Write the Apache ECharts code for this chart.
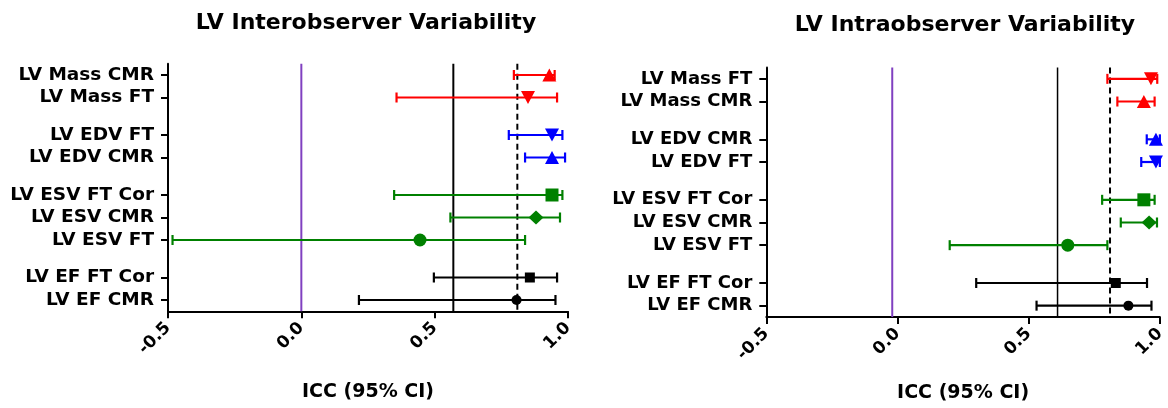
<!DOCTYPE html>
<html lang="en">
<head>
    <meta charset="UTF-8">
    <title>LV ICC</title>
    <script src="https://cdn.jsdelivr.net/npm/echarts@6/dist/echarts.min.js"></script>
</head>
<style>
    html,body{
        padding: 0;
        margin: 0;
        background: #fff;
    }
</style>
<body>
<div id="chart" style="width: 1168px;height:408px;"></div>
</body>
<script type="text/javascript">
    // 左图：观察者间
    var interNames = ['LV Mass CMR', 'LV Mass FT', 'LV EDV FT', 'LV EDV CMR',
        'LV ESV FT Cor', 'LV ESV CMR', 'LV ESV FT', 'LV EF FT Cor', 'LV EF CMR'];
    var interGroups = [2, 2, 3, 2];
    var interIcc  = [0.93, 0.85, 0.94, 0.94, 0.94, 0.88, 0.445, 0.857, 0.807];
    var interLow  = [0.797, 0.357, 0.778, 0.839, 0.348, 0.559, -0.483, 0.497, 0.216];
    var interHigh = [0.95, 0.959, 0.979, 0.989, 0.979, 0.970, 0.839, 0.959, 0.953];
    var interSymbols = ['up', 'down', 'down', 'up', 'square', 'diamond', 'circle', 'square', 'circle'];
    var interRefs = [0, 0.57, 0.81];

    // 右图：观察者内
    var intraNames = ['LV Mass FT', 'LV Mass CMR', 'LV EDV CMR', 'LV EDV FT',
        'LV ESV FT Cor', 'LV ESV CMR', 'LV ESV FT', 'LV EF FT Cor', 'LV EF CMR'];
    var intraGroups = [2, 2, 3, 2];
    var intraIcc  = [0.966, 0.939, 0.985, 0.985, 0.939, 0.959, 0.649, 0.832, 0.88];
    var intraLow  = [0.80, 0.838, 0.95, 0.929, 0.78, 0.851, 0.199, 0.30, 0.53];
    var intraHigh = [0.99, 0.98, 1.0, 1.0, 0.98, 0.989, 0.80, 0.951, 0.968];
    var intraSymbols = ['down', 'up', 'up', 'down', 'square', 'diamond', 'circle', 'square', 'circle'];
    var intraRefs = [-0.02, 0.61, 0.81];

    var groupColors = ['#ff0000', '#0000ff', '#008000', '#000000'];
    var xTicks = [-0.5, 0.0, 0.5, 1.0];

    var FONT = 'DejaVu Sans';
    var myChart = echarts.init(document.getElementById('chart'));

    /**
     * 把行排到细分的类目格子上，组内间隔3格，组间间隔5格
     */
    function buildSlots(names, groups) {
        var cats = ['#0'], rows = [], rowGroup = [], k = 0;
        groups.forEach(function (n, g) {
            if (g > 0) {
                for (var j = 0; j < 4; j++) cats.push('#' + cats.length);
            }
            for (var i = 0; i < n; i++) {
                if (i > 0) {
                    cats.push('#' + cats.length);
                    cats.push('#' + cats.length);
                }
                rows.push(cats.length);
                rowGroup.push(g);
                cats.push(names[k++]);
            }
        });
        cats.push('#' + cats.length);
        return {cats: cats, rows: rows, rowGroup: rowGroup};
    }

    function symbolOf(kind, big) {
        switch (kind) {
            case 'up': return {symbol: 'triangle', symbolSize: [14, 13], symbolRotate: 0};
            case 'down': return {symbol: 'triangle', symbolSize: [14, 13], symbolRotate: 180};
            case 'square': return {symbol: 'rect', symbolSize: big ? 13 : 10};
            case 'diamond': return {symbol: 'diamond', symbolSize: [15, 14]};
            default: return {symbol: 'circle', symbolSize: big ? 13 : 10};
        }
    }

    function isLabel(i, v) { return String(v).charAt(0) !== '#'; }

    // 参考线样式：紫色零线、黑实线、黑虚线
    function refStyle(j, idx) {
        if (j === 0) return {stroke: '#8040c0', lineWidth: 2};
        if (j === 1) return {stroke: '#000', lineWidth: idx ? 1.5 : 2};
        return {stroke: '#000', lineWidth: 2, lineDash: [6, 4]};
    }

    function panel(idx, names, groups, icc, low, high, kinds, refs, labelSize, nameGap) {
        var s = buildSlots(names, groups);
        var bars = [], points = [];
        for (var i = 0; i < names.length; i++) {
            var color = groupColors[s.rowGroup[i]];
            bars.push({value: [low[i], high[i], s.rows[i]], itemStyle: {color: color}});
            var big = s.rowGroup[i] < 3;
            var p = symbolOf(kinds[i], big);
            p.value = [icc[i], s.rows[i]];
            p.itemStyle = {color: color, opacity: 1};
            points.push(p);
        }
        var xAxis = {
            gridIndex: idx, type: 'value',
            min: xTicks[0], max: xTicks[xTicks.length - 1], interval: 0.5,
            name: 'ICC (95% CI)', nameLocation: 'middle', nameGap: nameGap,
            nameTextStyle: {fontFamily: FONT, fontWeight: 'bold', fontSize: 19, color: '#000'},
            axisLine: {show: true, onZero: false, lineStyle: {color: '#000', width: 2}},
            axisTick: {show: true, length: 7, lineStyle: {color: '#000', width: 2}},
            axisLabel: {rotate: 45, margin: 14, fontFamily: FONT, fontWeight: 'bold', fontSize: 17, color: '#000',
                formatter: function (v) { return v.toFixed(1); }},
            splitLine: {show: false}
        };
        var yAxis = {
            gridIndex: idx, type: 'category', inverse: true, data: s.cats,
            axisLine: {show: true, onZero: false, lineStyle: {color: '#000', width: 2}},
            axisTick: {show: true, interval: isLabel, alignWithLabel: true, length: 7,
                lineStyle: {color: '#000', width: 2}},
            axisLabel: {interval: isLabel, margin: 14, fontFamily: FONT, fontWeight: 'bold', fontSize: labelSize, color: '#000'},
            splitLine: {show: false}
        };
        var series = [
            {
                type: 'custom', xAxisIndex: idx, yAxisIndex: idx, z: 1, silent: true,
                encode: {x: 0, y: 1},
                data: refs.map(function (v, j) { return [v, 0, j]; }),
                renderItem: function (params, api) {
                    var cs = params.coordSys;
                    var x = api.coord([api.value(0), 0])[0];
                    return {
                        type: 'line',
                        shape: {x1: x, y1: cs.y, x2: x, y2: cs.y + cs.height},
                        style: refStyle(api.value(2), idx)
                    };
                }
            },
            {
                type: 'custom', xAxisIndex: idx, yAxisIndex: idx, z: 2,
                encode: {x: [0, 1], y: 2},
                data: bars,
                renderItem: function (params, api) {
                    var a = api.coord([api.value(0), api.value(2)]);
                    var b = api.coord([api.value(1), api.value(2)]);
                    var st = {stroke: api.visual('color'), lineWidth: 2.2};
                    return {
                        type: 'group',
                        children: [
                            {type: 'line', shape: {x1: a[0], y1: a[1], x2: b[0], y2: b[1]}, style: st},
                            {type: 'line', shape: {x1: a[0], y1: a[1] - 5, x2: a[0], y2: a[1] + 5}, style: st},
                            {type: 'line', shape: {x1: b[0], y1: b[1] - 5, x2: b[0], y2: b[1] + 5}, style: st}
                        ]
                    };
                }
            },
            {
                type: 'scatter', xAxisIndex: idx, yAxisIndex: idx, z: 3,
                clip: false, data: points
            }
        ];
        return {xAxis: xAxis, yAxis: yAxis, series: series};
    }

    var L = panel(0, interNames, interGroups, interIcc, interLow, interHigh, interSymbols, interRefs, 18.5, 71);
    var R = panel(1, intraNames, intraGroups, intraIcc, intraLow, intraHigh, intraSymbols, intraRefs, 18, 67);

    var option = {
        animation: false,
        grid: [
            {left: 168, top: 63.75, width: 400, height: 247.5},
            {left: 766.3, top: 67.5, width: 399, height: 256.5}
        ],
        graphic: [
            {type: 'text', x: 366, y: 23, style: {text: 'LV Interobserver Variability', align: 'center',
                verticalAlign: 'middle', font: 'bold 22px "DejaVu Sans"', fill: '#000'}},
            {type: 'text', x: 965, y: 25, style: {text: 'LV Intraobserver Variability', align: 'center',
                verticalAlign: 'middle', font: 'bold 22px "DejaVu Sans"', fill: '#000'}}
        ],
        xAxis: [L.xAxis, R.xAxis],
        yAxis: [L.yAxis, R.yAxis],
        series: L.series.concat(R.series)
    };
    myChart.setOption(option);
</script>
</html>
